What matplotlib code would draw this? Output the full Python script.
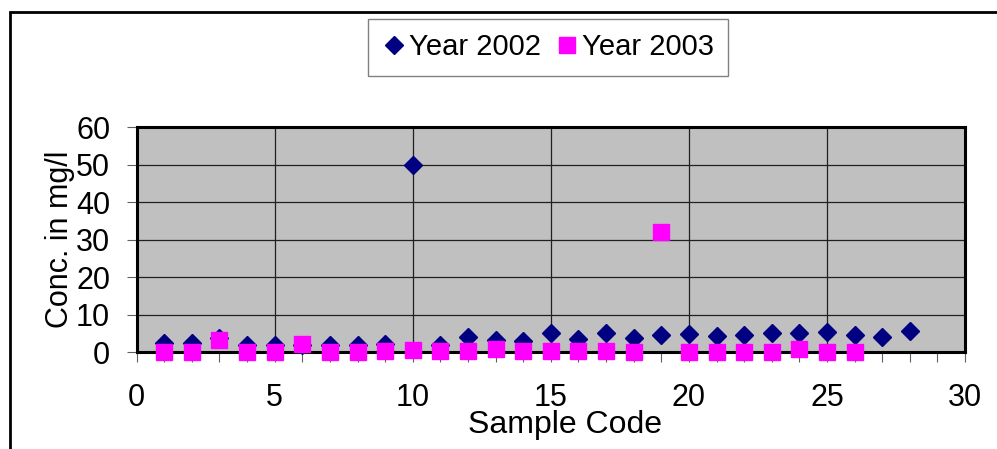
import matplotlib
matplotlib.use("Agg")
import matplotlib.pyplot as plt
from matplotlib.patches import Rectangle
from matplotlib.ticker import MultipleLocator

plt.rcParams['font.family'] = ['Liberation Sans', 'DejaVu Sans']

# sample codes and concentrations (mg/l)
codes_2002 = list(range(1, 29))
conc_2002 = [2.5, 2.5, 3.8, 2.0, 1.8, 2.0, 1.8, 1.8, 2.2, 50.0,
             1.8, 4.0, 3.2, 3.0, 5.0, 3.4, 5.0, 3.7, 4.5, 4.8,
             4.3, 4.6, 5.0, 5.0, 5.3, 4.6, 4.0, 5.5]

codes_2003 = list(range(1, 27))
conc_2003 = [0.0, 0.0, 3.2, 0.0, 0.0, 2.1, 0.0, 0.1, 0.4, 0.6,
             0.3, 0.3, 0.8, 0.4, 0.3, 0.3, 0.3, 0.0, 32.0, 0.0,
             0.1, 0.1, 0.1, 0.8, 0.0, 0.0]

fig = plt.figure(figsize=(9.97, 4.49), dpi=100)
ax = fig.add_axes([0.137, 0.216, 0.831, 0.501])

ax.set_facecolor('#C0C0C0')
ax.plot(codes_2002, conc_2002, linestyle='none', marker='D', markersize=9,
        color='#000080', label='Year 2002', zorder=3, clip_on=False)
ax.plot(codes_2003, conc_2003, linestyle='none', marker='s', markersize=11,
        color='#FF00FF', label='Year 2003', zorder=4, clip_on=False)

ax.set_xlim(0, 30)
ax.set_ylim(0, 60)
ax.xaxis.set_major_locator(MultipleLocator(5))
ax.xaxis.set_minor_locator(MultipleLocator(1))
ax.yaxis.set_major_locator(MultipleLocator(10))
ax.grid(True, which='major', color='#202020', linewidth=0.9)
ax.set_axisbelow(True)

for s in ax.spines.values():
    s.set_linewidth(2.2)
    s.set_zorder(2.5)
ax.tick_params(axis='both', which='major', direction='out', length=7, width=0.8,
               labelsize=22, color='#606060')
ax.tick_params(axis='x', which='major', pad=15)
ax.tick_params(axis='x', which='minor', direction='out', length=7, width=0.8, color='#606060')
ax.tick_params(axis='y', which='major', pad=12)

ax.set_xlabel('Sample Code', fontsize=23, labelpad=-2)
ax.xaxis.label.set_x(0.517)
ax.set_ylabel('Conc. in mg/l', fontsize=22, labelpad=1)

fig.legend(loc='center', bbox_to_anchor=(0.55, 0.895), ncol=2, fontsize=21,
           frameon=True, fancybox=False, edgecolor='#808080', framealpha=1,
           handletextpad=0.1, columnspacing=0.5, handlelength=0.8,
           borderpad=0.5)

# outer chart-area border (left and top visible)
fig.patches.append(Rectangle((0.010, -0.05), 1.2, 0.023 + 1.0, transform=fig.transFigure,
                             fill=False, edgecolor='black', linewidth=2))

fig.savefig('out.png', dpi=100)
